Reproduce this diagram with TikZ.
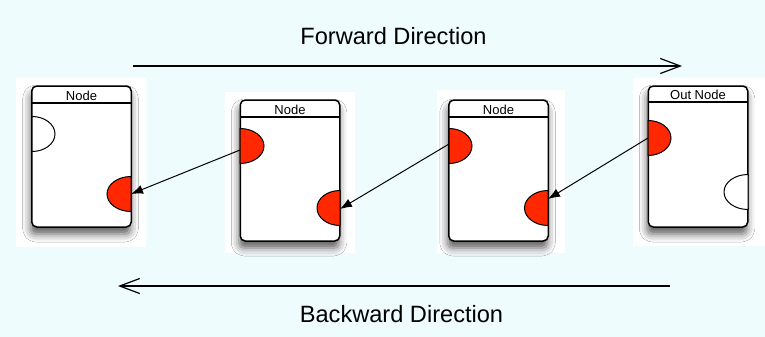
\documentclass[tikz,border=0pt]{standalone}
\usepackage{fontspec}
\setmainfont{Liberation Sans}
\usetikzlibrary{arrows.meta,shadows.blur}
\definecolor{bgcyan}{RGB}{238,252,253}
\definecolor{portred}{RGB}{255,40,0}
\begin{document}
\begin{tikzpicture}[x=0.5pt, y=-0.5pt,
    card/.style={draw=black, line width=0.75pt, rounded corners=2.5pt, fill=white,
      minimum width=49.75pt, minimum height=70.5pt, inner sep=0pt,
      blur shadow={shadow xshift=-0.5pt, shadow yshift=-3.5pt, shadow blur radius=4pt, shadow opacity=65}},
    port/.style={draw=black, line width=0.5pt},
    link/.style={-{Latex[length=6pt,width=4.5pt]}, line width=0.5pt},
    dirarrow/.style={line width=0.6pt},
    barb/.style={-{Straight Barb[length=10pt,width=7.5pt,line width=0.6pt]}},
    title/.style={font=\fontsize{6.5}{7}\selectfont, inner sep=0pt, anchor=base},
    dirlabel/.style={font=\fontsize{11.8}{14}\selectfont, inner sep=0pt, anchor=base}]
  \fill[bgcyan] (0,0) rectangle (765,337);
  \useasboundingbox (0,0) rectangle (765,337);
  \fill[white] (16,78) rectangle (146,247);
  \fill[white] (225,92) rectangle (355,253);
  \fill[white] (437,90) rectangle (565,253);
  \fill[white] (633,78) rectangle (765,246);
  \node[card] (c1) at (81.5,156.5) {};
  \node[card] (c2) at (290,170.5) {};
  \node[card] (c3) at (498.5,170.5) {};
  \node[card] (c4) at (698,156.5) {};
  \draw[line width=0.6pt] (32,103) -- (131,103);
  \draw[line width=0.6pt] (240,117) -- (340,117);
  \draw[line width=0.6pt] (449,117) -- (548,117);
  \draw[line width=0.6pt] (648,102) -- (748,102);
  \node[title] (t1) at (81.5,100) {Node};
  \node[title] (t2) at (290,114) {Node};
  \node[title] (t3) at (498.5,114) {Node};
  \node[title] (t4) at (698,99) {Out Node};
  \coordinate (p1in) at (32,134);
  \coordinate (p1out) at (131,194);
  \coordinate (p2in) at (240,146);
  \coordinate (p2out) at (340,208);
  \coordinate (p3in) at (449,146);
  \coordinate (p3out) at (548,208);
  \coordinate (p4in) at (648,138);
  \coordinate (p4out) at (748,192);
  \draw[port, fill=white] ([yshift=8.75pt]p1in) arc[start angle=90, end angle=-90, x radius=11.5pt, y radius=8.75pt] -- cycle;
  \draw[port, fill=portred] ([yshift=8.75pt]p2in) arc[start angle=90, end angle=-90, x radius=12pt, y radius=8.75pt] -- cycle;
  \draw[port, fill=portred] ([yshift=8.75pt]p3in) arc[start angle=90, end angle=-90, x radius=11.5pt, y radius=8.75pt] -- cycle;
  \draw[port, fill=portred] ([yshift=8.75pt]p4in) arc[start angle=90, end angle=-90, x radius=11.5pt, y radius=8.75pt] -- cycle;
  \draw[port, fill=portred] ([yshift=8.75pt]p1out) arc[start angle=90, end angle=270, x radius=12pt, y radius=8.75pt] -- cycle;
  \draw[port, fill=portred] ([yshift=8.75pt]p2out) arc[start angle=90, end angle=270, x radius=11.5pt, y radius=8.75pt] -- cycle;
  \draw[port, fill=portred] ([yshift=8.75pt]p3out) arc[start angle=90, end angle=270, x radius=11.75pt, y radius=8.75pt] -- cycle;
  \draw[port, fill=white] ([yshift=8.75pt]p4out) arc[start angle=90, end angle=270, x radius=12pt, y radius=8.75pt] -- cycle;
  \draw[link] ([yshift=-2pt]p2in) -- (p1out);
  \draw[link] ([yshift=1pt]p3in) -- ([yshift=-0.5pt]p2out);
  \draw[link] (p4in) -- ([yshift=4.5pt]p3out);
  \coordinate (fwdA) at (133,66);
  \coordinate (fwdB) at (682,66);
  \coordinate (bwdA) at (670,286);
  \coordinate (bwdB) at (118,286);
  \draw[dirarrow, barb] (fwdA) -- (fwdB);
  \draw[dirarrow, barb] (bwdA) -- (bwdB);
  \node[dirlabel] (fwd) at (393.5,44) {Forward Direction};
  \node[dirlabel] (bwd) at (401.5,322) {Backward Direction};
\end{tikzpicture}
\end{document}
